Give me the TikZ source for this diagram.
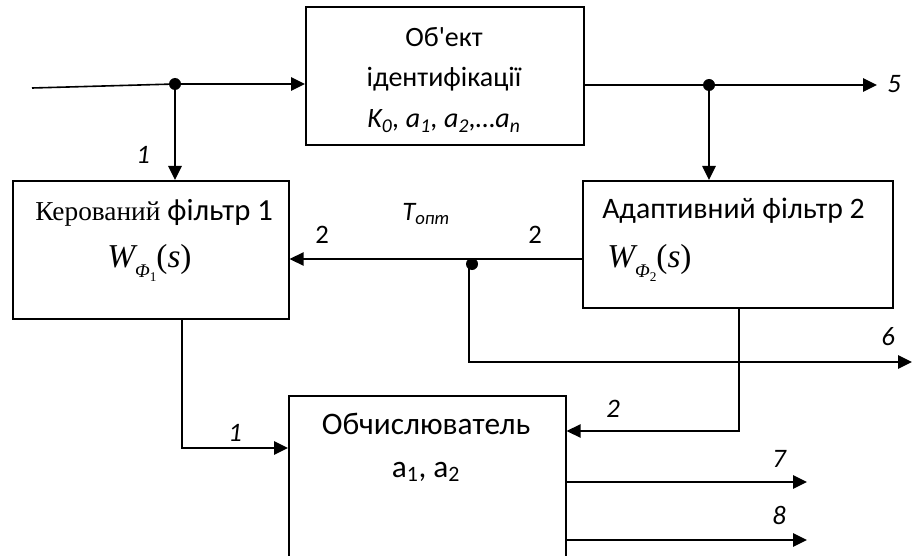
\documentclass[tikz,border=0pt]{standalone}
\usepackage{fontspec}
\setmainfont{Carlito}[Ligatures=TeXOff]
\newfontfamily\tnr{Liberation Serif}
\usetikzlibrary{arrows.meta}
\newcommand\objtxt{\fontsize{21}{25}\selectfont}
\newcommand\adtxt{\fontsize{22.3}{26}\selectfont}
\newcommand\kertxt{\fontsize{23}{26}\selectfont}
\newcommand\obtxt{\fontsize{23.5}{27}\selectfont}
\newcommand\lbltxt{\fontsize{20}{24}\selectfont}
\newcommand\wtxt{\fontsize{20.5}{23}\selectfont}
\newcommand\Wphi[1]{{\tnr\fontsize{25}{28}\selectfont\itshape W\raisebox{-7.5pt}{\fontsize{14.5}{14}\selectfont Φ\raisebox{-3pt}{\fontsize{10}{10}\selectfont\upshape #1}}\upshape(\itshape s\upshape)}}
\begin{document}
\begin{tikzpicture}[x=0.75pt,y=-0.75pt,
  box/.style={draw,line width=1.2pt,anchor=north west,inner sep=0pt},
  ln/.style={line width=1.2pt},
  arr/.style={line width=1.2pt,-{Triangle[length=10.5pt,width=10pt]}},
  dot/.style={circle,fill,inner sep=0pt,minimum size=9pt},
  txt/.style={anchor=base,inner sep=0pt},
  txtw/.style={anchor=base west,inner sep=0pt},
  lbl/.style={anchor=base west,font=\lbltxt\itshape,inner sep=0pt},
  lblu/.style={anchor=base west,font=\lbltxt,inner sep=0pt}]
\useasboundingbox (0,0) rectangle (913,556);
% boxes
\node[box,minimum width=208.5pt,minimum height=103.5pt] (obj) at (305,6) {};
\node[box,minimum width=207pt,minimum height=103.5pt] (ker) at (12,180) {};
\node[box,minimum width=232.5pt,minimum height=95.25pt] (ad) at (582,180) {};
\node[box,minimum width=207.75pt,minimum height=123.75pt] (ob) at (288,395) {};
% texts
\node[txt,font=\objtxt] (t1) at (444,47) {Об'ект};
\node[txt,font=\objtxt] (t2) at (444,87) {ідентифікації};
\node[txt,font=\objtxt] (t3) at (444,128) {\itshape K\textsubscript{0}, a\textsubscript{1}, a\textsubscript{2},…a\textsubscript{n}};
\node[txtw,font=\kertxt] (t4) at (35,220) {{\tnr\wtxt Керований} фільтр 1};
\node[anchor=base west,inner sep=0pt] (t5) at (107,267) {\Wphi{1}};
\node[txtw,font=\adtxt] (t6) at (602,218) {Адаптивний фільтр 2};
\node[anchor=base west,inner sep=0pt] (t7) at (607,267) {\Wphi{2}};
\node[txt,font=\obtxt] (t8) at (426,434) {Обчислюватель};
\node[txt,font=\obtxt] (t9) at (426,477) {a\textsubscript{1}, a\textsubscript{2}};
\node[lbl] (tt) at (402,220) {T\textsubscript{опт}};
% coordinates
\coordinate (in) at (32,88);
\coordinate (j1) at (175,84);
\coordinate (j2) at (709,85);
\coordinate (o5) at (877,85);
\coordinate (j3) at (469,259);
\coordinate (o6) at (912,362);
\coordinate (k) at (182,448);
\coordinate (a) at (739,431);
\coordinate (o7) at (807,482);
\coordinate (o8) at (807,540);
% connectors
\draw[ln] (in) -- (j1);
\draw[arr] (j1) -- (j1 -| obj.west);
\draw[arr] (j1) -- (j1 |- ker.north);
\draw[arr] (obj.east |- j2) -- (o5);
\draw[arr] (j2) -- (j2 |- ad.north);
\draw[arr] (ad.west |- j3) -- (ker.east |- j3);
\draw[arr] (j3) -- (j3 |- o6) -- (o6);
\draw[arr] (k |- ker.south) -- (k) -- (k -| ob.west);
\draw[arr] (a |- ad.south) -- (a) -- (a -| ob.east);
\draw[arr] (ob.east |- o7) -- (o7);
\draw[arr] (ob.east |- o8) -- (o8);
\node[dot] (d1) at (j1) {};
\node[dot] (d2) at (j2) {};
\node[dot] (d3) at (472,264) {};
% labels
\node[lbl] (l1) at (136,163) {1};
\node[lbl] (l5) at (887,93) {5};
\node[lblu] (l2a) at (315,243) {2};
\node[lblu] (l2b) at (528,243) {2};
\node[lbl] (l6) at (881,345) {6};
\node[lbl] (l1b) at (228,441) {1};
\node[lbl] (l2c) at (606,417) {2};
\node[lbl] (l7) at (772,467) {7};
\node[lbl] (l8) at (772,524) {8};
\end{tikzpicture}
\end{document}
